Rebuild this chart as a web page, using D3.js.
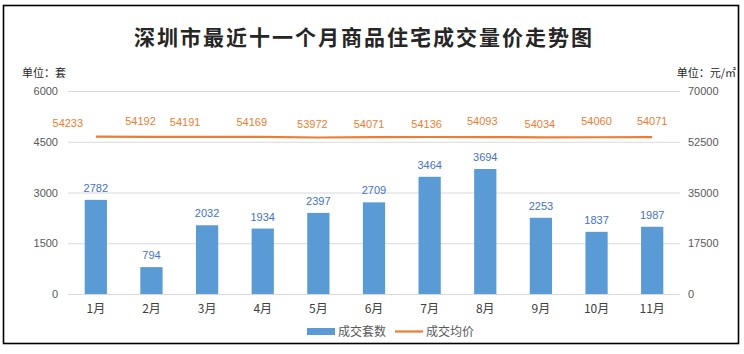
<!DOCTYPE html>
<html><head><meta charset="utf-8">
<script src="https://cdn.jsdelivr.net/npm/d3@7"></script>
<style>body{margin:0;background:#fff}svg{display:block;font-family:"Liberation Sans",Arial,sans-serif}</style>
</head><body><svg id="c" width="744" height="354"></svg>
<script>
const categories = ["1月","2月","3月","4月","5月","6月","7月","8月","9月","10月","11月"];
const volumes = [2782, 794, 2032, 1934, 2397, 2709, 3464, 3694, 2253, 1837, 1987];
const prices = [54233, 54192, 54191, 54169, 53972, 54071, 54136, 54093, 54034, 54060, 54071];
const leftTicks = [0, 1500, 3000, 4500, 6000];
const rightTicks = [0, 17500, 35000, 52500, 70000];
const title = "深圳市最近十一个月商品住宅成交量价走势图";
const seriesNames = ["成交套数", "成交均价"];
// label nudges (px) for price labels, as placed in the original
const priceLabelNudge = [[-28,-2],[-11,-4],[-22,-3],[-11,-3],[-6,-1],[-5,-1],[-3,-1],[-3,-4],[-1,-1],[0,-4],[0,-4]];

const svg = d3.select("#c");
const W = 744, H = 354;
const m = {l: 68, r: 680, t: 91, b: 294};
svg.append("rect").attr("x",3.5).attr("y",5.5).attr("width",735).attr("height",338)
  .attr("fill","#fff").attr("stroke","#000").attr("stroke-width",1.6);

const x = d3.scaleBand().domain(categories).range([m.l, m.r]).paddingInner(0.6).paddingOuter(0.3);
const yL = d3.scaleLinear().domain([0, 6000]).range([m.b, m.t]);
const yR = d3.scaleLinear().domain([0, 70000]).range([m.b, m.t]);

// gridlines
svg.append("g").selectAll("line").data(leftTicks).join("line")
  .attr("x1", m.l).attr("x2", m.r).attr("y1", d=>yL(d)+0.5).attr("y2", d=>yL(d)+0.5)
  .attr("stroke","#d9d9d9").attr("stroke-width",1);

// axes
const axL = svg.append("g").attr("transform",`translate(${m.l},0)`)
  .call(d3.axisLeft(yL).tickValues(leftTicks).tickSize(0).tickPadding(10).tickFormat(d3.format("d")));
const axR = svg.append("g").attr("transform",`translate(${m.r},0)`)
  .call(d3.axisRight(yR).tickValues(rightTicks).tickSize(0).tickPadding(8).tickFormat(d3.format("d")));
const axB = svg.append("g").attr("transform",`translate(0,${m.b})`)
  .call(d3.axisBottom(x).tickSize(0).tickPadding(10));
[axL, axR, axB].forEach(a => {
  a.select(".domain").remove();
  a.selectAll("text").attr("fill","#595959").style("font-size","11px").style("font-family","'Liberation Sans',Arial,sans-serif");
});
axB.selectAll("text").style("font-size","12px").style("font-family","'Noto Sans CJK SC',sans-serif").attr("fill","#404040");

// bars
svg.append("g").selectAll("rect").data(volumes).join("rect")
  .attr("x",(d,i)=>x(categories[i])).attr("width",x.bandwidth())
  .attr("y",d=>yL(d)).attr("height",d=>yL(0)-yL(d)).attr("fill","#5b9bd5");
svg.append("g").selectAll("text").data(volumes).join("text")
  .attr("x",(d,i)=>x(categories[i])+x.bandwidth()/2).attr("y",d=>yL(d)-8)
  .attr("text-anchor","middle").attr("fill","#4472c4").style("font-size","11px").text(d=>d);

// line
const cx = (d,i)=>x(categories[i])+x.bandwidth()/2;
svg.append("path").datum(prices)
  .attr("d", d3.line().x(cx).y(d=>yR(d)))
  .attr("fill","none").attr("stroke","#ed7d31").attr("stroke-width",2.2);
svg.append("g").selectAll("text").data(prices).join("text")
  .attr("x",(d,i)=>cx(d,i)+priceLabelNudge[i][0]).attr("y",(d,i)=>yR(d)-8+priceLabelNudge[i][1])
  .attr("text-anchor","middle").attr("fill","#ed7d31").style("font-size","11px").text(d=>d);

// title
svg.append("text").attr("x",W/2-8).attr("y",45).attr("text-anchor","middle")
  .style("font-family","'Noto Sans CJK SC',serif").style("font-weight","bold").style("font-size","21px")
  .attr("fill","#262626").attr("letter-spacing","2px").text(title);

// units
svg.append("text").attr("x",22).attr("y",77).style("font-family","'Noto Sans CJK SC',sans-serif")
  .style("font-size","11px").attr("fill","#262626").text("单位：套");
svg.append("text").attr("x",736).attr("y",77).attr("text-anchor","end").style("font-family","'Noto Sans CJK SC',sans-serif")
  .style("font-size","11px").attr("fill","#262626").text("单位：元/㎡");

// legend
const lg = svg.append("g").style("font-family","'Noto Sans CJK SC',sans-serif").style("font-size","12px");
lg.append("rect").attr("x",307).attr("y",328).attr("width",28).attr("height",7).attr("fill","#5b9bd5");
lg.append("text").attr("x",338).attr("y",336).attr("fill","#595959").text(seriesNames[0]);
lg.append("line").attr("x1",395).attr("x2",423).attr("y1",331.5).attr("y2",331.5).attr("stroke","#ed7d31").attr("stroke-width",2.2);
lg.append("text").attr("x",426).attr("y",336).attr("fill","#595959").text(seriesNames[1]);
</script></body></html>
